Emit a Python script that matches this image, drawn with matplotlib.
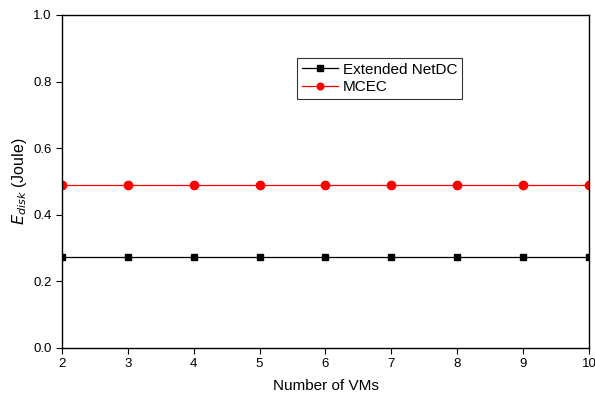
import numpy as np
import matplotlib.pyplot as plt

plt.rcParams['font.family'] = ['Liberation Sans', 'DejaVu Sans']

# data
vms = [2, 3, 4, 5, 6, 7, 8, 9, 10]
netdc = [0.273] * 9
mcec = [0.489] * 9

fig = plt.figure(figsize=(5.95, 3.94), dpi=100)
ax = fig.add_axes([0.104, 0.117, 0.886, 0.845])

ax.plot(vms, netdc, color="black", marker="s", ms=5, lw=0.9, label="Extended NetDC")
ax.plot(vms, mcec, color="red", marker="o", ms=6, lw=0.9, label="MCEC")

ax.set_xlim(2, 10)
ax.set_ylim(0, 1.0)
ax.set_xticks(range(2, 11))
ax.set_yticks(np.arange(0, 1.01, 0.2))
ax.set_yticklabels([f"{v:.1f}" for v in np.arange(0, 1.01, 0.2)])
ax.tick_params(direction="out", labelsize=9.5, length=4)
for s in ax.spines.values():
    s.set_linewidth(1)

ax.set_xlabel("Number of VMs", fontsize=11, labelpad=6)
ax.set_ylabel(r"$E_{disk}$ (Joule)", fontsize=11.5, labelpad=3)

leg = ax.legend(loc="upper left", bbox_to_anchor=(0.446, 0.871), fontsize=11,
                frameon=True, fancybox=False, edgecolor="black", markerscale=0.8,
                handlelength=2.4, handletextpad=0.3, borderpad=0.3,
                labelspacing=0.25, borderaxespad=0)
leg.get_frame().set_linewidth(0.8)

fig.savefig("out.png", dpi=100)
